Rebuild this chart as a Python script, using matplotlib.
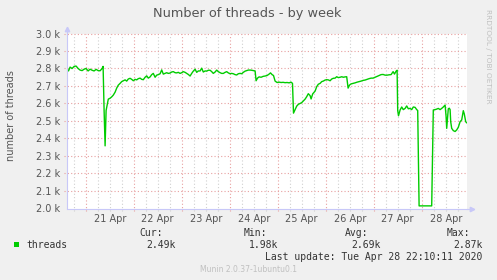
import matplotlib
matplotlib.use("Agg")
import matplotlib.pyplot as plt

# hours since 20 Apr 00:00
hours = [14.7, 15.4, 16.2, 17.2, 18.2, 19.2, 20.2, 21.2, 22.2, 23.2, 24.2, 25.2, 26.2, 27.2, 28.2,
         29.2, 30.2, 31.2, 32.2, 32.7, 33.2, 33.7, 34.2, 34.9, 35.3, 36.2, 37.0, 37.8, 38.7, 39.5,
         40.3, 41.2, 42.0, 42.8, 43.7, 44.5, 45.3, 46.2, 47.0, 47.8, 48.7, 49.5, 50.3, 51.2, 52.0,
         52.8, 53.7, 54.5, 55.3, 56.2, 57.0, 57.8, 58.7, 59.5, 60.3, 61.2, 62.0, 62.8, 63.7, 64.5,
         65.3, 66.2, 67.0, 67.8, 68.7, 69.5, 70.3, 71.2, 72.0, 72.8, 73.7, 74.5, 75.3, 76.2, 77.0,
         77.8, 78.7, 79.5, 80.3, 81.2, 82.0, 82.8, 83.7, 84.5, 85.3, 86.2, 87.0, 87.8, 88.7, 89.5,
         90.3, 91.2, 92.0, 92.8, 93.7, 94.5, 95.3, 96.2, 97.0, 97.8, 98.7, 99.5, 100.3, 101.2, 102.0,
         102.8, 103.7, 104.5, 105.3, 106.2, 107.0, 107.8, 108.7, 109.2, 109.9, 110.7, 111.7, 112.7,
         113.7, 114.7, 115.7, 116.4, 117.2, 117.9, 118.7, 119.7, 120.7, 121.7, 122.7, 123.7, 124.7,
         125.7, 126.7, 127.4, 127.9, 128.7, 129.5, 130.3, 131.2, 132.0, 132.8, 133.7, 134.5, 135.3,
         136.2, 136.7, 137.5, 138.7, 139.5, 140.3, 141.2, 142.0, 142.8, 143.7, 144.5, 145.3, 146.2,
         147.0, 147.8, 148.7, 149.5, 150.3, 151.2, 152.0, 152.8, 153.7, 154.5, 155.2, 155.9, 156.7,
         157.7, 158.7, 159.7, 160.7, 161.7, 162.7, 163.7, 164.7, 165.7, 166.7, 167.7, 168.7, 169.7,
         170.7, 171.7, 172.7, 173.7, 174.7, 175.7, 176.7, 177.7, 178.4, 179.2, 179.7, 180.0, 180.4,
         181.2, 182.0, 182.8, 183.7, 184.5, 185.3, 186.2, 187.0, 187.8, 188.7, 189.5, 190.0, 190.7,
         197.0, 197.8, 198.7, 199.5, 200.3, 201.2, 202.0, 202.8, 203.7, 204.2, 204.5, 205.3, 205.8,
         206.2, 206.5, 207.0, 207.8, 208.7, 209.5, 210.3, 211.2, 212.0, 212.8, 213.3, 214.0, 214.5]

threads = [2797, 2786, 2808, 2800, 2812, 2814, 2800, 2791, 2788, 2796, 2800, 2786, 2796, 2790, 2786,
           2795, 2788, 2787, 2800, 2812, 2560, 2358, 2560, 2600, 2625, 2630, 2638, 2648, 2665, 2688,
           2705, 2715, 2725, 2730, 2735, 2728, 2740, 2744, 2738, 2730, 2738, 2735, 2742, 2745, 2738,
           2736, 2750, 2758, 2745, 2752, 2765, 2772, 2750, 2762, 2765, 2770, 2792, 2768, 2772, 2776,
           2772, 2774, 2780, 2782, 2776, 2775, 2778, 2772, 2776, 2782, 2778, 2772, 2766, 2757, 2772,
           2785, 2796, 2778, 2786, 2786, 2802, 2780, 2786, 2785, 2790, 2790, 2782, 2772, 2780, 2791,
           2782, 2776, 2772, 2772, 2778, 2782, 2775, 2770, 2772, 2770, 2765, 2763, 2770, 2772, 2770,
           2778, 2785, 2788, 2791, 2791, 2790, 2788, 2786, 2730, 2745, 2752, 2750, 2755,
           2757, 2760, 2768, 2775, 2765, 2760, 2728, 2720, 2722, 2720, 2721, 2719, 2720,
           2718, 2722, 2715, 2545, 2565, 2585, 2595, 2600, 2605, 2614, 2625, 2639, 2656,
           2645, 2626, 2655, 2671, 2696, 2710, 2715, 2725, 2728, 2734, 2736, 2735, 2730,
           2740, 2744, 2745, 2753, 2748, 2750, 2753, 2750, 2752, 2753, 2688, 2705, 2712,
           2715, 2718, 2722, 2725, 2728, 2732, 2734, 2738, 2742, 2745, 2745, 2750, 2755,
           2760, 2765, 2766, 2762, 2762, 2764, 2765, 2782, 2768, 2785, 2790, 2560, 2530,
           2563, 2580, 2565, 2572, 2586, 2570, 2572, 2565, 2580, 2578, 2565, 2560, 2015,
           2015, 2563, 2565, 2568, 2572, 2565, 2572, 2580, 2591, 2525, 2458, 2570, 2573,
           2565, 2496, 2458, 2445, 2440, 2449, 2464, 2496, 2506, 2559, 2540, 2496, 2490]

day_labels = ["21 Apr", "22 Apr", "23 Apr", "24 Apr", "25 Apr", "26 Apr", "27 Apr", "28 Apr"]
y_ticks = [2000, 2100, 2200, 2300, 2400, 2500, 2600, 2700, 2800, 2900, 3000]
stat_names = ["Cur:", "Min:", "Avg:", "Max:"]
stat_values = ["2.49k", "1.98k", "2.69k", "2.87k"]

BG = "#f0f0f0"
TXT = "#555555"
AXC = "#c8c8f8"
MAJ = "#e8a0a0"
MIN = "#d0d0d0"

fig = plt.figure(figsize=(4.97, 2.8), dpi=100, facecolor=BG)
W, H = 497, 280
ax = fig.add_axes([66.7 / W, 1 - 208.5 / H, 400 / W, 175 / H], facecolor="white")

x0, x1 = 14.5, 214.5
ax.set_xlim(x0, x1)
ax.set_ylim(2000, 3000)

# grid: days (red), 6 hours (grey); short ticks poke outside the axes
midnights = [24 * (i + 1) for i in range(len(day_labels))]
minor = [m + h for m in [0] + midnights for h in (6, 12, 18) if x0 < m + h < x1]
for m in midnights:
    ax.axvline(m, ymin=-0.015, ymax=1, color=MAJ, lw=0.8, ls=(0, (1, 2)), zorder=1, clip_on=False)
for m in minor:
    ax.axvline(m, ymin=-0.012, ymax=1, color=MIN, lw=0.8, ls=(0, (1, 2)), zorder=0, clip_on=False)
for v in y_ticks[1:]:
    ax.axhline(v, xmin=-0.008, xmax=1, color=MAJ, lw=0.8, ls=(0, (1, 2)), zorder=1, clip_on=False)

ax.plot(hours, threads, color="#00cc00", lw=1.0, zorder=3)

ax.set_xticks([m + 12 for m in midnights])
ax.set_xticklabels(day_labels)
ax.set_yticks(y_ticks)
ax.set_yticklabels([f"{v / 1000:.1f} k" for v in y_ticks])
ax.tick_params(axis="both", labelsize=7, labelcolor=TXT, length=0, pad=4)
ax.tick_params(axis="y", pad=5)

for s in ("top", "right"):
    ax.spines[s].set_visible(False)
for s in ("left", "bottom"):
    ax.spines[s].set_color(AXC)
    ax.spines[s].set_linewidth(0.8)
    ax.spines[s].set_zorder(4)

# axis arrows
ax.plot([1.0, 1.012], [0, 0], color=AXC, lw=0.8, transform=ax.transAxes, clip_on=False)
ax.plot([1.012], [0], marker=">", color=AXC, ms=3.2, transform=ax.transAxes, clip_on=False)
ax.plot([0, 0], [1.0, 1.02], color=AXC, lw=0.8, transform=ax.transAxes, clip_on=False)
ax.plot([0], [1.025], marker="^", color=AXC, ms=3.2, transform=ax.transAxes, clip_on=False)

fig.text(247.5 / W, 1 - 13 / H, "Number of threads - by week", ha="center", va="center",
         fontsize=9.3, color=TXT)
fig.text(11 / W, 1 - 115.5 / H, "number of threads", ha="center", va="center",
         rotation=90, fontsize=7, color=TXT)
fig.text(488 / W, 1 - 56 / H, "RRDTOOL / TOBI OETIKER", ha="center", va="center",
         rotation=-90, fontsize=5.3, color="#c0c0c0")

# legend block
mono = "DejaVu Sans Mono"
fig.patches.append(plt.Rectangle((14 / W, 1 - 247 / H), 5 / W, 5 / H, transform=fig.transFigure,
                                 facecolor="#00cc00", edgecolor="none"))
fig.text(26.7 / W, 1 - 244.5 / H, "threads", ha="left", va="center", fontsize=7,
         family=mono, color="#333333")
name_right = [163, 266.7, 368, 470]
val_right = [176, 278.7, 381, 482.7]
for n, v, xn, xv in zip(stat_names, stat_values, name_right, val_right):
    fig.text(xn / W, 1 - 233.3 / H, n, ha="right", va="center", fontsize=7, family=mono, color="#333333")
    fig.text(xv / W, 1 - 244.5 / H, v, ha="right", va="center", fontsize=7, family=mono, color="#333333")
fig.text(482.7 / W, 1 - 256.7 / H, "Last update: Tue Apr 28 22:10:11 2020", ha="right", va="center",
         fontsize=7, family=mono, color="#333333")
fig.text(248.3 / W, 1 - 269.3 / H, "Munin 2.0.37-1ubuntu0.1", ha="center", va="center",
         fontsize=5.5, color="#c0c0c0")

fig.savefig("out.png", dpi=100, facecolor=BG)
